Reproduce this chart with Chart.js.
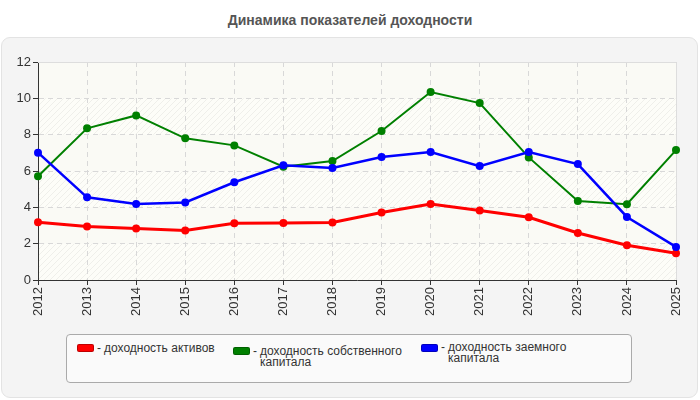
<!DOCTYPE html>
<html>
<head>
<meta charset="utf-8">
<script src="https://cdn.jsdelivr.net/npm/chart.js@4/dist/chart.umd.min.js"></script>
<style>
  html, body { margin: 0; padding: 0; background: #ffffff; }
  body { width: 700px; height: 400px; position: relative; overflow: hidden; font-family: "Liberation Sans", Arial, sans-serif; }
  #title { position: absolute; left: 0; top: 12px; width: 700px; text-align: center; font-weight: bold; font-size: 14px; color: #555; }
  #panel { position: absolute; left: 1px; top: 37px; width: 695px; height: 359px; background: #f4f4f4; border: 1px solid #e3e3e3; border-radius: 9px; }
  #chart { position: absolute; left: 0; top: 0; }
  #legend { position: absolute; left: 66px; top: 334px; width: 564px; height: 47px; background: #fafafa; border: 1px solid #aaaaaa; border-radius: 4px; }
  .item { position: absolute; font-size: 12px; line-height: 11px; color: #333; }
  .sw { position: absolute; width: 15px; height: 6px; border-radius: 2px; }
  .dash { position: absolute; left: 0; top: 0; }
  .txt { position: absolute; left: 7px; top: 0; white-space: nowrap; }
</style>
</head>
<body>
<div id="title"></div>
<div id="panel"></div>
<canvas id="chart" width="700" height="400"></canvas>
<div id="legend"></div>
<script>
const chartTitle = 'Динамика показателей доходности';
const years = ['2012','2013','2014','2015','2016','2017','2018','2019','2020','2021','2022','2023','2024','2025'];
const seriesNames = ['доходность активов', 'доходность собственного капитала', 'доходность заемного капитала'];
const seriesNameLines = [['доходность активов'], ['доходность собственного', 'капитала'], ['доходность заемного', 'капитала']];
const seriesColors = ['#ff0000', '#008000', '#0000ff'];
const assetsReturn = [3.18, 2.94, 2.83, 2.73, 3.12, 3.14, 3.17, 3.72, 4.18, 3.83, 3.45, 2.59, 1.91, 1.47];
const equityReturn = [5.71, 8.35, 9.06, 7.80, 7.41, 6.24, 6.55, 8.20, 10.35, 9.74, 6.75, 4.35, 4.17, 7.15];
const debtReturn   = [7.01, 4.55, 4.18, 4.27, 5.38, 6.31, 6.16, 6.77, 7.04, 6.27, 7.04, 6.38, 3.47, 1.82];
const yMin = 0, yMax = 12, yStep = 2;

document.getElementById('title').textContent = chartTitle;

// legend (HTML, from the series arrays)
const legendPos = [
  {x: 10, y: 9, sw: 0},
  {x: 166, y: 12, sw: 0},
  {x: 354, y: 8, sw: 1}
];
const legend = document.getElementById('legend');
seriesNames.forEach((name, i) => {
  const p = legendPos[i];
  const sw = document.createElement('div');
  sw.className = 'sw';
  sw.style.left = p.x + 'px';
  sw.style.top = (p.y + p.sw) + 'px';
  sw.style.background = seriesColors[i];
  sw.style.border = '1px solid rgba(0,0,0,0.25)';
  legend.appendChild(sw);
  const it = document.createElement('div');
  it.className = 'item';
  it.style.left = (p.x + 20) + 'px';
  it.style.top = (p.y - 1) + 'px';
  const d = document.createElement('span');
  d.className = 'dash'; d.textContent = '-';
  it.appendChild(d);
  const t = document.createElement('div');
  t.className = 'txt';
  t.innerHTML = seriesNameLines[i].map(s => s.replace(/&/g,'&amp;')).join('<br>');
  it.appendChild(t);
  legend.appendChild(it);
});

// chart area background with alternating hatched bands
const bgPlugin = {
  id: 'bgBands',
  beforeDraw(chart) {
    const {ctx, chartArea: a, scales} = chart;
    const y = scales.y;
    ctx.save();
    ctx.fillStyle = '#fdfdf8';
    ctx.fillRect(a.left, a.top, a.right - a.left, a.bottom - a.top);
    const pc = document.createElement('canvas');
    pc.width = 6; pc.height = 6;
    const pctx = pc.getContext('2d');
    pctx.strokeStyle = 'rgba(0,0,0,0.055)';
    pctx.lineWidth = 1;
    pctx.beginPath();
    pctx.moveTo(0, 6); pctx.lineTo(6, 0);
    pctx.moveTo(-1, 1); pctx.lineTo(1, -1);
    pctx.moveTo(5, 7); pctx.lineTo(7, 5);
    pctx.stroke();
    const pat = ctx.createPattern(pc, 'repeat');
    let k = 0;
    for (let v = yMin; v < yMax; v += yStep, k++) {
      const y0 = y.getPixelForValue(v), y1 = y.getPixelForValue(v + yStep);
      ctx.fillStyle = (k % 2 === 0) ? pat : 'rgba(0,0,0,0.01)';
      ctx.fillRect(a.left, y1, a.right - a.left, y0 - y1);
    }
    ctx.restore();
  },
  beforeDatasetsDraw(chart) {
    const {ctx, chartArea: a} = chart;
    ctx.save();
    ctx.strokeStyle = '#dddddd';
    ctx.lineWidth = 1;
    ctx.beginPath();
    ctx.moveTo(a.left, a.top + 0.5); ctx.lineTo(a.right + 0.5, a.top + 0.5); ctx.lineTo(a.right + 0.5, a.bottom);
    ctx.stroke();
    ctx.restore();
  }
};

const seriesData = [assetsReturn, equityReturn, debtReturn];
const widths = [3, 2, 2.5];
new Chart(document.getElementById('chart'), {
  type: 'line',
  data: {
    labels: years,
    datasets: seriesNames.map((n, i) => ({
      label: n,
      data: seriesData[i],
      borderColor: seriesColors[i],
      backgroundColor: seriesColors[i],
      borderWidth: widths[i],
      pointRadius: 4,
      pointBorderWidth: 0,
      pointBackgroundColor: seriesColors[i],
      tension: 0,
      fill: false
    })).reverse()
  },
  options: {
    responsive: false,
    animation: false,
    events: [],
    layout: { padding: { top: 62, right: 24, left: 0, bottom: 0 } },
    plugins: { legend: { display: false }, title: { display: false }, tooltip: { enabled: false } },
    scales: {
      x: {
        offset: false,
        afterFit(s) { s.height = 120; },
        grid: { color: '#d8d8d8', tickColor: '#333', tickBorderDash: [], tickLength: 5, drawTicks: true },
        border: { color: '#333', width: 1, dash: [5, 4] },
        ticks: { color: '#333', font: { family: 'Liberation Sans', size: 13 }, minRotation: 90, maxRotation: 90, padding: 2, autoSkip: false }
      },
      y: {
        min: yMin, max: yMax,
        afterFit(s) { s.width = 38; },
        grid: { color: '#d8d8d8', tickColor: '#333', tickBorderDash: [], tickLength: 5 },
        border: { color: '#333', width: 1, dash: [5, 4] },
        ticks: { stepSize: yStep, color: '#333', font: { family: 'Liberation Sans', size: 13 }, padding: 2 }
      }
    }
  },
  plugins: [bgPlugin]
});
</script>
</body>
</html>
